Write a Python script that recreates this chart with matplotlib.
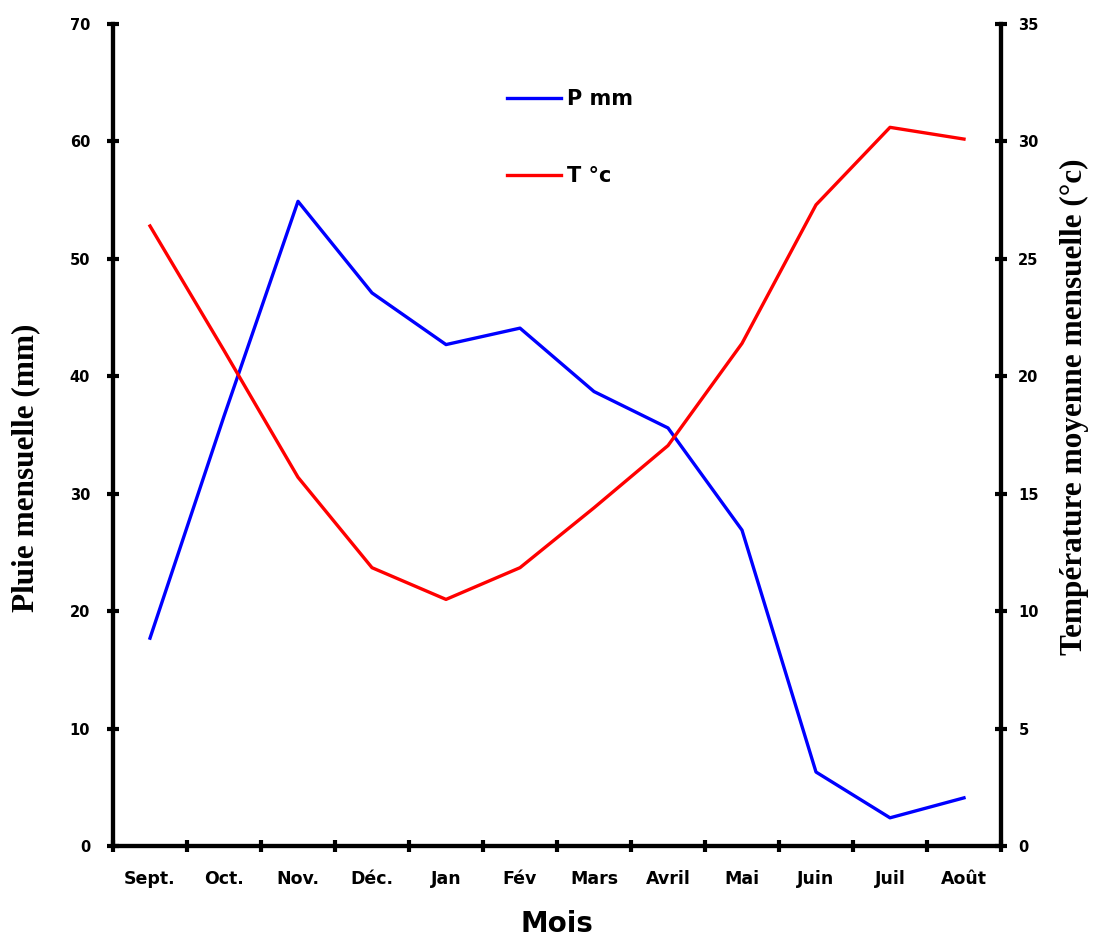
import matplotlib
matplotlib.use("Agg")
import matplotlib.pyplot as plt
import numpy as np

mois = ["Sept.", "Oct.", "Nov.", "Déc.", "Jan", "Fév", "Mars", "Avril", "Mai", "Juin", "Juil", "Août"]
pluie = [17.7, 36.6, 54.9, 47.1, 42.7, 44.1, 38.7, 35.6, 26.9, 6.3, 2.4, 4.1]
temp = [26.4, 21.1, 15.7, 11.85, 10.5, 11.85, 14.4, 17.05, 21.4, 27.3, 30.6, 30.1]

sans = "DejaVu Sans"
serif = "Liberation Serif"

fig = plt.figure(figsize=(10.94, 9.36), dpi=100)
ax = fig.add_axes([113 / 1094, 1 - 846 / 936, 888 / 1094, 822 / 936])
ax2 = ax.twinx()

x = np.arange(len(mois))
l1, = ax.plot(x, pluie, color="#0000FF", lw=2.4, label="P mm")
l2, = ax2.plot(x, temp, color="#FF0000", lw=2.4, label="T °c")

ax.set_xlim(-0.5, len(mois) - 0.5)
ax.set_ylim(0, 70)
ax2.set_ylim(0, 35)
ax.set_yticks(range(0, 71, 10))
ax2.set_yticks(range(0, 36, 5))

# category labels centred, ticks on the boundaries
ax.set_xticks(x)
ax.set_xticklabels(mois, fontsize=12.5, fontweight="bold", family=sans)
ax.tick_params(axis="x", which="major", length=0, pad=17)
ax.set_xticks(np.arange(-0.5, len(mois)), minor=True)
ax.tick_params(axis="x", which="minor", length=8, width=3, direction="inout")

for a in (ax, ax2):
    for s in a.spines.values():
        s.set_linewidth(3)
    a.spines["top"].set_visible(False)
    for lab in a.get_yticklabels():
        lab.set_fontweight("bold")
        lab.set_family(sans)
        lab.set_fontsize(10.5)
ax.tick_params(axis="y", length=9, width=3, direction="inout", pad=12)
ax2.tick_params(axis="y", length=9, width=3, direction="inout", pad=8)

ax.set_xlabel("Mois", fontsize=20, fontweight="bold", family=sans, labelpad=16)
ax.set_ylabel("Pluie mensuelle (mm)", fontsize=22.5, fontweight="bold", family=serif)
ax2.set_ylabel("Température moyenne mensuelle (°c)", fontsize=22.5, fontweight="bold",
               family=serif)
ax.yaxis.set_label_coords(-0.082, 0.46)
ax2.yaxis.set_label_coords(1.066, 0.534)

ax.legend([l1, l2], ["P mm", "T °c"], loc="upper left",
          bbox_to_anchor=(507 / 1094, 1 - 89 / 936), bbox_transform=fig.transFigure,
          frameon=False, borderpad=0, borderaxespad=0,
          handlelength=2.6, labelspacing=2.75, handletextpad=0.3,
          prop={"family": sans, "weight": "bold", "size": 15})

fig.savefig("out.png", dpi=100)
